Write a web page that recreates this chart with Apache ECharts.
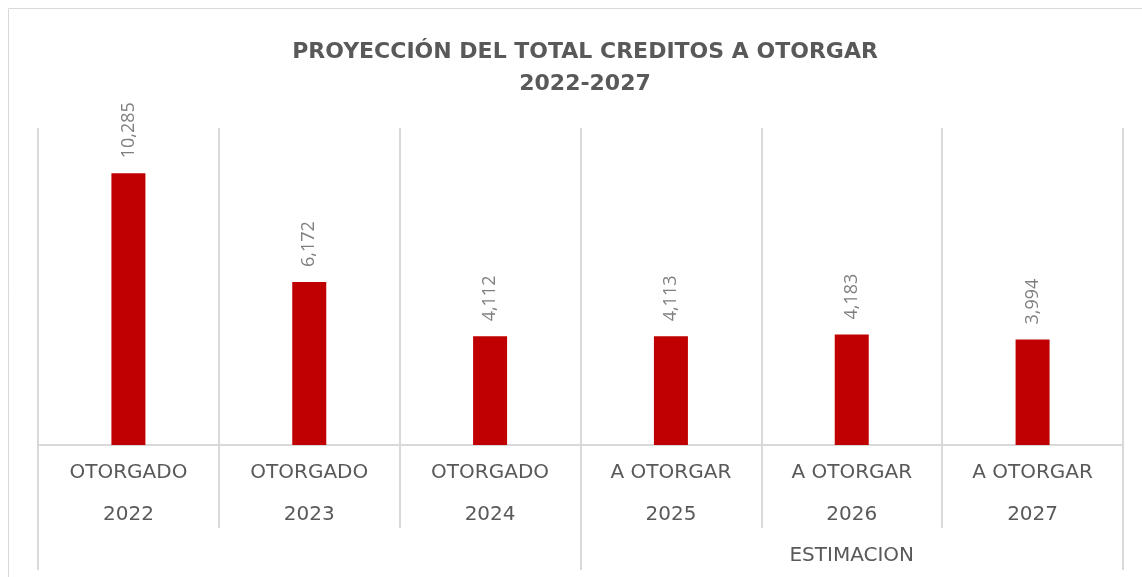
<!DOCTYPE html>
<html>
<head>
<meta charset="utf-8">
<script src="https://cdn.jsdelivr.net/npm/echarts@6/dist/echarts.min.js"></script>
<style>
  html, body { margin: 0; padding: 0; background: #fff; }
  #main { width: 1142px; height: 577px; }
</style>
</head>
<body>
<div id="main"></div>
<script>
var estados = ['OTORGADO', 'OTORGADO', 'OTORGADO', 'A OTORGAR', 'A OTORGAR', 'A OTORGAR'];
var anios = ['2022', '2023', '2024', '2025', '2026', '2027'];
var creditos = [10285, 6172, 4112, 4113, 4183, 3994];
var grupos = ['', 'ESTIMACION'];

var categorias = estados.map(function (e, i) { return e + '\n' + anios[i]; });

var app = echarts.init(document.getElementById('main'));
var gris = '#d9d9d9';

var option = {
    title: {
        text: 'PROYECCIÓN DEL TOTAL CREDITOS A OTORGAR\n2022-2027',
        left: 580,
        textAlign: 'center',
        top: 31,
        textStyle: {
            fontFamily: 'DejaVu Sans',
            fontSize: 22,
            fontWeight: 'bold',
            color: '#595959',
            lineHeight: 32
        }
    },
    graphic: [{
        type: 'rect',
        shape: { x: 8.5, y: 8.5, width: 1150, height: 600 },
        style: { fill: 'none', stroke: gris, lineWidth: 1 },
        silent: true
    }],
    grid: { left: 38, right: 19, top: 128, bottom: 132, containLabel: false },
    xAxis: [{
        type: 'category',
        data: categorias,
        position: 'bottom',
        axisLine: { lineStyle: { color: gris, width: 2 } },
        axisTick: { show: true, length: 83, interval: 0, lineStyle: { color: gris, width: 2 } },
        splitLine: { show: true, interval: 0, lineStyle: { color: gris, width: 2 } },
        axisLabel: {
            interval: 0,
            margin: 7,
            fontFamily: 'DejaVu Sans',
            fontSize: 20,
            lineHeight: 42,
            color: '#595959'
        }
    }, {
        type: 'category',
        data: grupos,
        position: 'bottom',
        axisLine: { show: false },
        axisTick: { show: true, length: 125, interval: 0, lineStyle: { color: gris, width: 2 } },
        axisLabel: {
            interval: 0,
            margin: 99,
            fontFamily: 'DejaVu Sans',
            fontSize: 20,
            lineHeight: 24,
            color: '#595959'
        }
    }],
    yAxis: {
        type: 'value',
        min: 0,
        max: 12000,
        show: false,
        splitLine: { show: false }
    },
    series: [{
        type: 'bar',
        xAxisIndex: 0,
        data: creditos,
        barWidth: 34,
        itemStyle: { color: '#c00000' },
        label: {
            show: true,
            position: 'top',
            rotate: 90,
            align: 'left',
            verticalAlign: 'middle',
            distance: 15,
            fontFamily: 'Open Sans',
            fontSize: 18,
            color: '#7f7f7f',
            formatter: function (p) { return p.value.toLocaleString('en-US'); }
        }
    }]
};

app.setOption(option);
</script>
</body>
</html>
